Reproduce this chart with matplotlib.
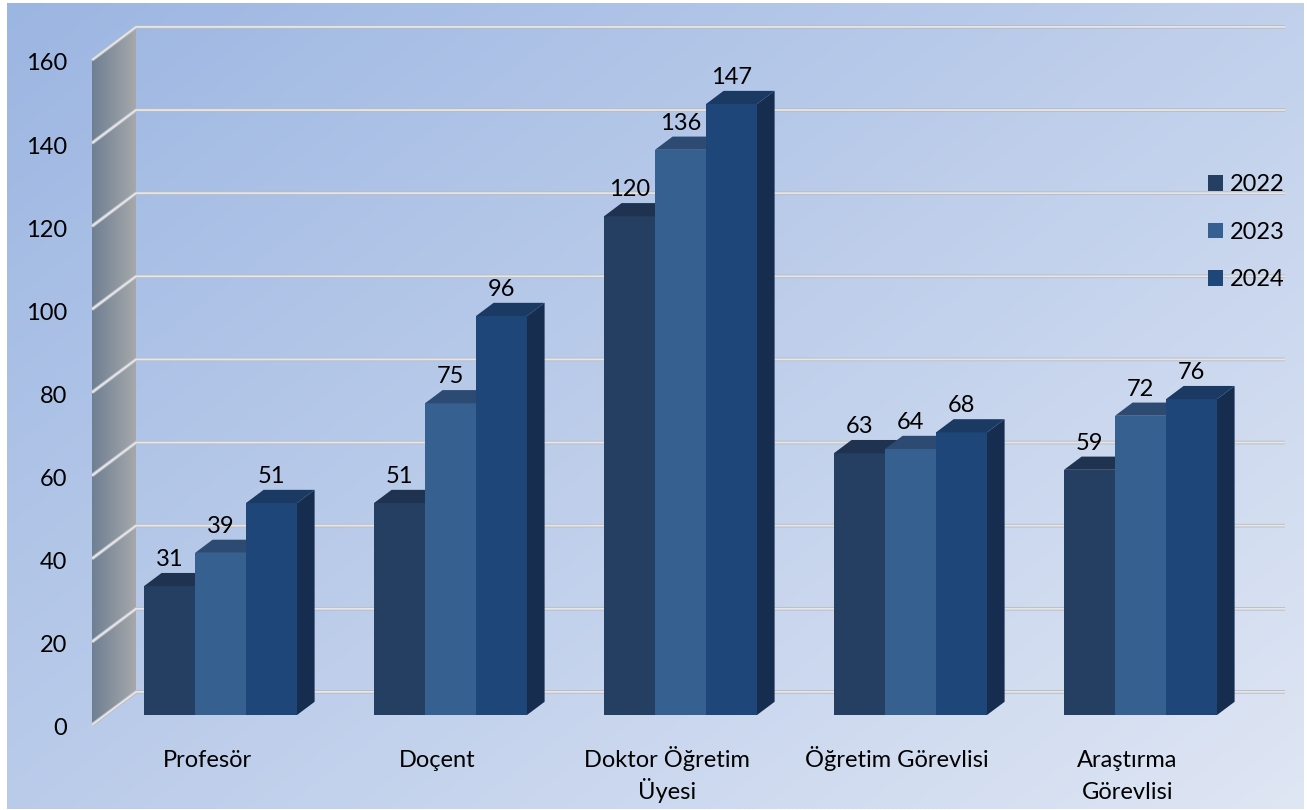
import numpy as np
import matplotlib
matplotlib.use("Agg")
import matplotlib.pyplot as plt
from matplotlib.patches import Polygon, Patch
from matplotlib.colors import to_rgb

# ---------------- data ----------------
categories = ["Profesör", "Doçent", "Doktor Öğretim\nÜyesi", "Öğretim Görevlisi", "Araştırma\nGörevlisi"]
years = ["2022", "2023", "2024"]
values_2022 = [31, 51, 120, 63, 59]
values_2023 = [39, 75, 136, 64, 72]
values_2024 = [51, 96, 147, 68, 76]
y_ticks = [0, 20, 40, 60, 80, 100, 120, 140, 160]

series = [values_2022, values_2023, values_2024]
front_cols = ["#243f62", "#36608f", "#1f4678"]
top_cols = ["#1f3350", "#2d4a72", "#1b3a63"]
side_cols = ["#1b2e4a", "#284670", "#162d4f"]

plt.rcParams['font.family'] = ['Lato', 'DejaVu Sans']
FS = 17

W, H = 1307, 810
fig = plt.figure(figsize=(W / 100, H / 100), dpi=100, facecolor="white")
ax = fig.add_axes([0, 0, 1, 1])
ax.set_axis_off()

# scale: pixels per unit
SX = 230.0          # px per category
SY = 4.156          # px per value unit
X0PX, Y0PX = 220.5, 715.0
xlim = ((0 - X0PX) / SX, (W - X0PX) / SX)
ylim = ((Y0PX - H) / SY, (Y0PX - 0) / SY)

DX = 44 / SX        # full depth offset (x)
DY = 33 / SY        # full depth offset (y)
ZB = 0.3            # bar front plane depth
ZD = 0.4            # bar depth

px2x = lambda p: (p - X0PX) / SX
py2y = lambda p: (Y0PX - p) / SY

# background gradient
bg0 = np.array(to_rgb("#9cb6e2"))
bg1 = np.array(to_rgb("#dfe6f4"))
gx, gy = np.meshgrid(np.linspace(0, 1, 300), np.linspace(0, 1, 200))
t = np.clip((gx * 0.55 + gy * 0.45), 0, 1)
img = bg0[None, None, :] * (1 - t[..., None]) + bg1[None, None, :] * t[..., None]
ax.imshow(img, extent=(px2x(7), px2x(W - 3), py2y(H - 1), py2y(3)),
          origin="upper", aspect="auto", zorder=0, interpolation="bilinear")

# walls
xL_front = px2x(92)
xL_back = xL_front + DX
x_right_back = px2x(1285)
vmax = y_ticks[-1]

def P(x, v, z):
    """x at front plane, value v, depth z -> data coords (bar plane system)."""
    return (x + z * DX, v + (z - ZB) * DY)

wall = [P(xL_front, 0, 0), P(xL_front, 0, 1), P(xL_front, vmax, 1), P(xL_front, vmax, 0)]
wall_poly = Polygon(wall, closed=True, facecolor="none", edgecolor="none", zorder=1)
ax.add_patch(wall_poly)
wg = np.linspace(0, 1, 100)[None, :]
c0 = np.array(to_rgb("#6f7f93"))
c1 = np.array(to_rgb("#a6a8ab"))
wimg = c0[None, None, :] * (1 - wg[..., None]) + c1[None, None, :] * wg[..., None]
wimg = np.repeat(wimg, 10, axis=0)
ys = [p[1] for p in wall]
wi = ax.imshow(wimg, extent=(xL_front, xL_back, min(ys), max(ys)), aspect="auto",
               zorder=1, interpolation="bilinear")
wi.set_clip_path(wall_poly)

# gridlines
for v in y_ticks:
    a = P(xL_front, v, 0)
    b = P(xL_front, v, 1)
    c = (x_right_back, b[1])
    for lw, col in [(2.6, "#b9bcc2"), (1.3, "#e4e6ea")]:
        ax.plot([a[0], b[0], c[0]], [a[1], b[1], c[1]], color=col, lw=lw,
                solid_capstyle="butt", zorder=2)
    ax.text(px2x(67), P(xL_front, v, 0)[1] - 4 / SY, str(v), ha="right", va="center",
            fontsize=FS, color="black", zorder=5)

# bars
w = 51 / SX
dxb, dyb = ZD * DX, ZD * DY
for i in range(len(categories)):
    for k, vals in enumerate(series):
        h = vals[i]
        xl = i + (k - 1.5) * w
        xr = xl + w
        side = Polygon([(xr, 0), (xr + dxb, dyb), (xr + dxb, h + dyb), (xr, h)],
                       closed=True, facecolor=side_cols[k], edgecolor="none", zorder=3)
        ax.add_patch(side)
        ax.bar(xl, h, width=w, align="edge", color=front_cols[k], edgecolor="none", zorder=3)
        top = Polygon([(xl, h), (xr, h), (xr + dxb, h + dyb), (xl + dxb, h + dyb)],
                      closed=True, facecolor=top_cols[k], edgecolor="none", zorder=3)
        ax.add_patch(top)
        ax.text((xl + xr) / 2, h + dyb + 7 / SY, str(h), ha="center", va="baseline",
                fontsize=FS, color="black", zorder=6)
    # category label, line by line on fixed baselines
    for j, line in enumerate(categories[i].split("\n")):
        ax.text(i - ZB * DX, py2y(767 + 32 * j), line, ha="center", va="baseline",
                fontsize=FS, color="black", zorder=6)

ax.set_xlim(*xlim)
ax.set_ylim(*ylim)

handles = [Patch(facecolor=front_cols[k], edgecolor="none") for k in range(3)]
ax.legend(handles, years, loc="upper left", bbox_to_anchor=(1208 / W, 1 - 174 / H),
          bbox_transform=fig.transFigure, frameon=False, fontsize=FS,
          handlelength=0.64, handleheight=0.64, handletextpad=0.3,
          labelspacing=1.13, borderpad=0, borderaxespad=0)

fig.savefig("out.png", dpi=100, facecolor="white")
